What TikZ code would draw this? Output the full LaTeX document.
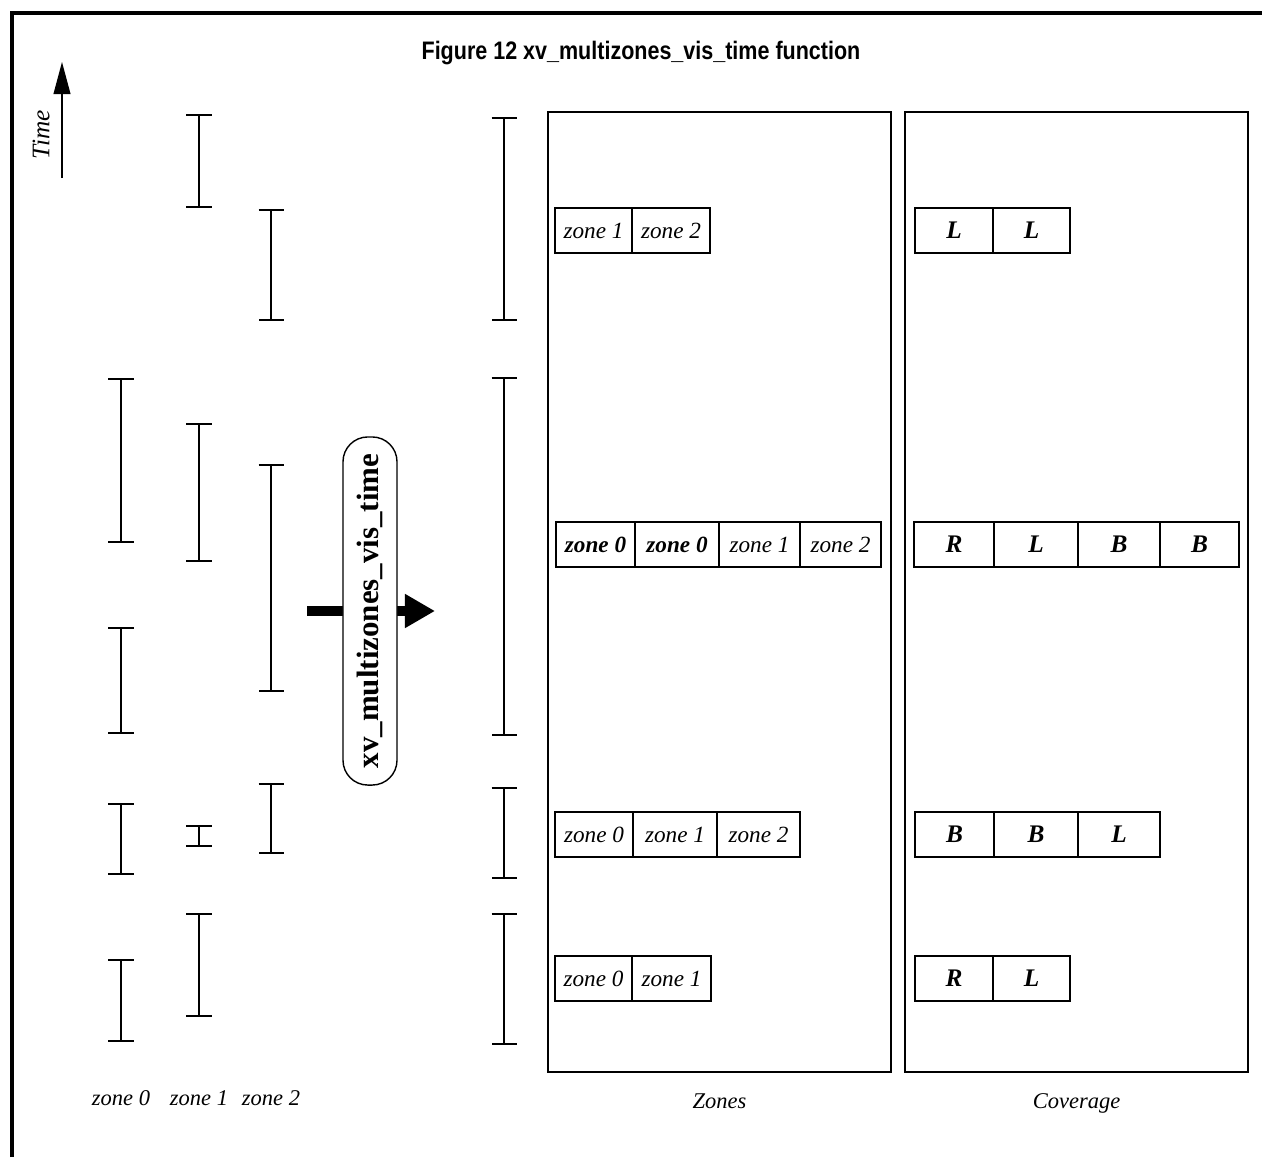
\documentclass[tikz,border=0pt]{standalone}
\usepackage{fontspec}
\setmainfont{Liberation Serif}
\newfontfamily\titlefont[FakeStretch=0.85]{Liberation Sans}
\usetikzlibrary{positioning,arrows.meta}

\newcommand\cellfont{\fontsize{16.5}{18}\selectfont\itshape}

\begin{document}
\begin{tikzpicture} [
	x=0.025cm,y=-0.025cm,
	frame/.style={line width=2.2pt},
	ibar/.style={
		line width=1.1pt,
		{Bar[width=0.625cm,line width=1.1pt]}-{Bar[width=0.625cm,line width=1.1pt]}},
	panel/.style={
		rectangle,draw,line width=1.4pt,inner sep=0pt,outer sep=0pt},
	cell/.style={
		rectangle,draw,line width=1.1pt,inner sep=0pt,outer sep=0pt,
		minimum height=1.125cm,font=\cellfont},
	cov/.style={
		cell,font=\fontsize{18}{20}\selectfont\itshape\bfseries},
	cw/.style={minimum width=#1*0.025cm},
	lbl/.style={font=\fontsize{16}{18}\selectfont\itshape},
	pill/.style={
		rectangle,draw,fill=white,line width=1pt,rounded corners=0.62cm,
		minimum width=8.7cm,minimum height=1.35cm,inner sep=0pt,rotate=90,
		font=\fontsize{22}{24}\selectfont\bfseries},
	fat/.style={
		line width=7.5pt,-{Triangle[length=0.75cm,width=0.8cm]}}]
\useasboundingbox (0,0) rectangle (1262,1157);
% frame and title
\draw[frame] (12,1157) -- (12,13) -- (1262,13);
\node[font=\titlefont\bfseries\fontsize{18}{20}\selectfont] (title) at (641,53) {Figure 12 xv\_multizones\_vis\_time function};
% time axis
\coordinate (t0) at (62,178);
\coordinate (t1) at (62,62);
\draw[line width=1pt,-{Triangle[length=0.8cm,width=0.42cm]}] (t0) -- (t1);
\node[rotate=90,font=\fontsize{18}{20}\selectfont\itshape] (time) at (41,135) {Time};
% input intervals
\draw[ibar] (121,378) -- (121,543);
\draw[ibar] (121,627) -- (121,734);
\draw[ibar] (121,803) -- (121,875);
\draw[ibar] (121,959) -- (121,1042);
\draw[ibar] (199,114) -- (199,208);
\draw[ibar] (199,423) -- (199,562);
\draw[ibar] (199,825) -- (199,847);
\draw[ibar] (199,913) -- (199,1017);
\draw[ibar] (271,209) -- (271,321);
\draw[ibar] (271,464) -- (271,692);
\draw[ibar] (271,783) -- (271,854);
\node[lbl] (in0) at (121,1098) {zone 0};
\node[lbl] (in1) at (199,1098) {zone 1};
\node[lbl] (in2) at (271,1098) {zone 2};
% function
\coordinate (fin) at (307,611);
\coordinate (fout) at (435,611);
\draw[fat] (fin) -- (fout);
\node[pill] (func) at (370,611) {xv\_multizones\_vis\_time};
% output intervals
\draw[ibar] (504,117) -- (504,321);
\draw[ibar] (504,377) -- (504,736);
\draw[ibar] (504,787) -- (504,879);
\draw[ibar] (504,913) -- (504,1045);
% panels
\node[panel,minimum width=8.575cm,minimum height=24cm] (zones) at (719.5,592) {};
\node[panel,minimum width=8.575cm,minimum height=24cm] (coverage) at (1076.5,592) {};
\node[lbl,below=0.42cm of zones.south] (zoneslbl) {Zones};
\node[lbl,below=0.42cm of coverage.south] (coveragelbl) {Coverage};
% zones
\node[cell,cw=77,anchor=west] (za1) at (555,230.5) {zone 1};
\node[cell,cw=78,right=0pt of za1] (za2) {zone 2};
\node[cell,cw=79,anchor=west,font=\cellfont\bfseries] (zb1) at (556,544.5) {zone 0};
\node[cell,cw=84,right=0pt of zb1,font=\cellfont\bfseries] (zb2) {zone 0};
\node[cell,cw=81,right=0pt of zb2] (zb3) {zone 1};
\node[cell,cw=81,right=0pt of zb3] (zb4) {zone 2};
\node[cell,cw=78,anchor=west] (zc1) at (555,834.5) {zone 0};
\node[cell,cw=84,right=0pt of zc1] (zc2) {zone 1};
\node[cell,cw=83,right=0pt of zc2] (zc3) {zone 2};
\node[cell,cw=77,anchor=west] (zd1) at (555,978.5) {zone 0};
\node[cell,cw=79,right=0pt of zd1] (zd2) {zone 1};
% coverage
\node[cov,cw=78,anchor=west] (ca1) at (915,230.5) {L};
\node[cov,cw=77,right=0pt of ca1] (ca2) {L};
\node[cov,cw=80,anchor=west] (cb1) at (914,544.5) {R};
\node[cov,cw=84,right=0pt of cb1] (cb2) {L};
\node[cov,cw=82,right=0pt of cb2] (cb3) {B};
\node[cov,cw=79,right=0pt of cb3] (cb4) {B};
\node[cov,cw=79,anchor=west] (cc1) at (915,834.5) {B};
\node[cov,cw=84,right=0pt of cc1] (cc2) {B};
\node[cov,cw=82,right=0pt of cc2] (cc3) {L};
\node[cov,cw=78,anchor=west] (cd1) at (915,978.5) {R};
\node[cov,cw=77,right=0pt of cd1] (cd2) {L};
\end{tikzpicture}
\end{document}
